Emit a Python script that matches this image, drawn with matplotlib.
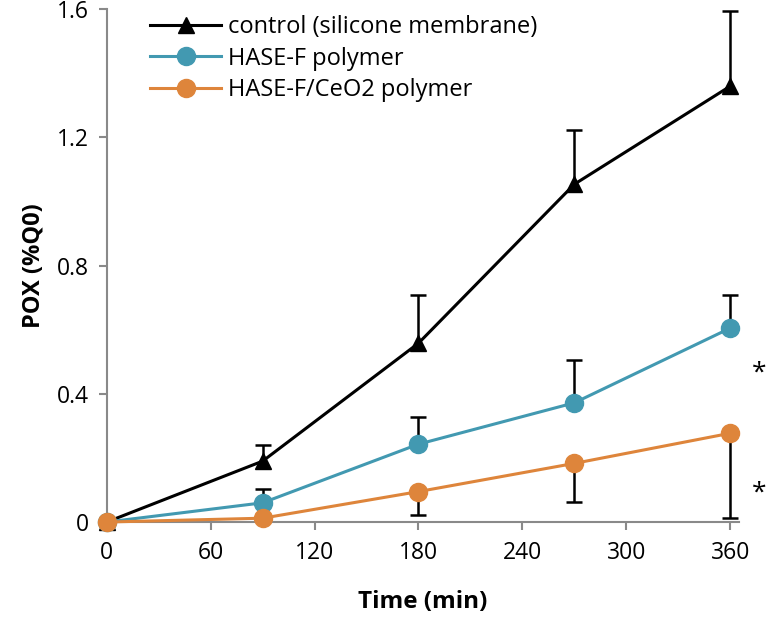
import matplotlib
matplotlib.use("Agg")
import matplotlib.pyplot as plt
import numpy as np

# data
time_min = [0, 90, 180, 270, 360]

control = [0.0, 0.19, 0.558, 1.054, 1.36]
control_err_up = [0.0, 0.05, 0.15, 0.169, 0.234]

hase_f = [0.0, 0.06, 0.243, 0.372, 0.605]
hase_f_err_up = [0.0, 0.043, 0.084, 0.133, 0.103]

hase_ceo2 = [0.0, 0.012, 0.095, 0.183, 0.277]
hase_ceo2_err_down = [0.0, 0.0, 0.073, 0.12, 0.265]

labels = ["control (silicone membrane)", "HASE-F polymer", "HASE-F/CeO2 polymer"]
x_ticks = [0, 60, 120, 180, 240, 300, 360]
y_ticks = [0, 0.4, 0.8, 1.2, 1.6]
y_tick_labels = ["0", "0.4", "0.8", "1.2", "1.6"]
stars = [(377, 0.465), (377, 0.09)]

TEAL = "#4299B1"
ORANGE = "#DE853B"
GREY = "#898989"

plt.rcParams["font.family"] = ["Open Sans", "DejaVu Sans"]


def draw_err(ax, x, y, err, sign):
    # one-sided error bars: vertical stem plus a cap marker
    for xi, yi, e in zip(x, y, err):
        if e <= 0:
            continue
        end = yi + sign * e
        ax.plot([xi, xi], [yi, end], color="black", lw=1.8, zorder=2,
                solid_capstyle="butt")
        ax.plot(xi, end, marker="_", ms=11, mew=1.8, color="black", zorder=2)


def main():
    fig = plt.figure(figsize=(7.68, 6.2), dpi=100)
    ax = fig.add_axes([0.139, 0.158, 0.823, 0.827])

    draw_err(ax, time_min, control, control_err_up, 1)
    draw_err(ax, time_min, hase_f, hase_f_err_up, 1)
    draw_err(ax, time_min, hase_ceo2, hase_ceo2_err_down, -1)

    ax.plot(time_min, control, color="black", lw=2.2, marker="^", ms=12,
            label=labels[0], zorder=3, clip_on=False)
    ax.plot(time_min, hase_f, color=TEAL, lw=2.2, marker="o", ms=13,
            label=labels[1], zorder=4, clip_on=False)
    ax.plot(time_min, hase_ceo2, color=ORANGE, lw=2.2, marker="o", ms=13,
            label=labels[2], zorder=5, clip_on=False)

    for sx, sy in stars:
        ax.text(sx, sy, "*", fontsize=19, ha="center", va="center",
                clip_on=False)

    ax.set_xlim(0, 365)
    ax.set_ylim(0, 1.6)
    ax.set_xticks(x_ticks)
    ax.set_yticks(y_ticks)
    ax.set_yticklabels(y_tick_labels)
    ax.tick_params(axis="both", labelsize=16.5, color=GREY, width=1.5,
                   length=6, direction="out")
    ax.tick_params(axis="x", pad=8)
    ax.tick_params(axis="y", pad=7)

    for side in ["top", "right"]:
        ax.spines[side].set_visible(False)
    for side in ["left", "bottom"]:
        ax.spines[side].set_color(GREY)
        ax.spines[side].set_linewidth(1.5)

    ax.set_xlabel("Time (min)", fontsize=17.5, fontweight="bold", labelpad=18)
    ax.set_ylabel("POX (%Q0)", fontsize=17, fontweight="bold", labelpad=8)

    ax.legend(loc="upper left", bbox_to_anchor=(0.035, 1.03), frameon=False,
              fontsize=17, handlelength=3.0, handletextpad=0.3,
              labelspacing=0.32)

    fig.savefig("out.png", dpi=100)


if __name__ == "__main__":
    main()
